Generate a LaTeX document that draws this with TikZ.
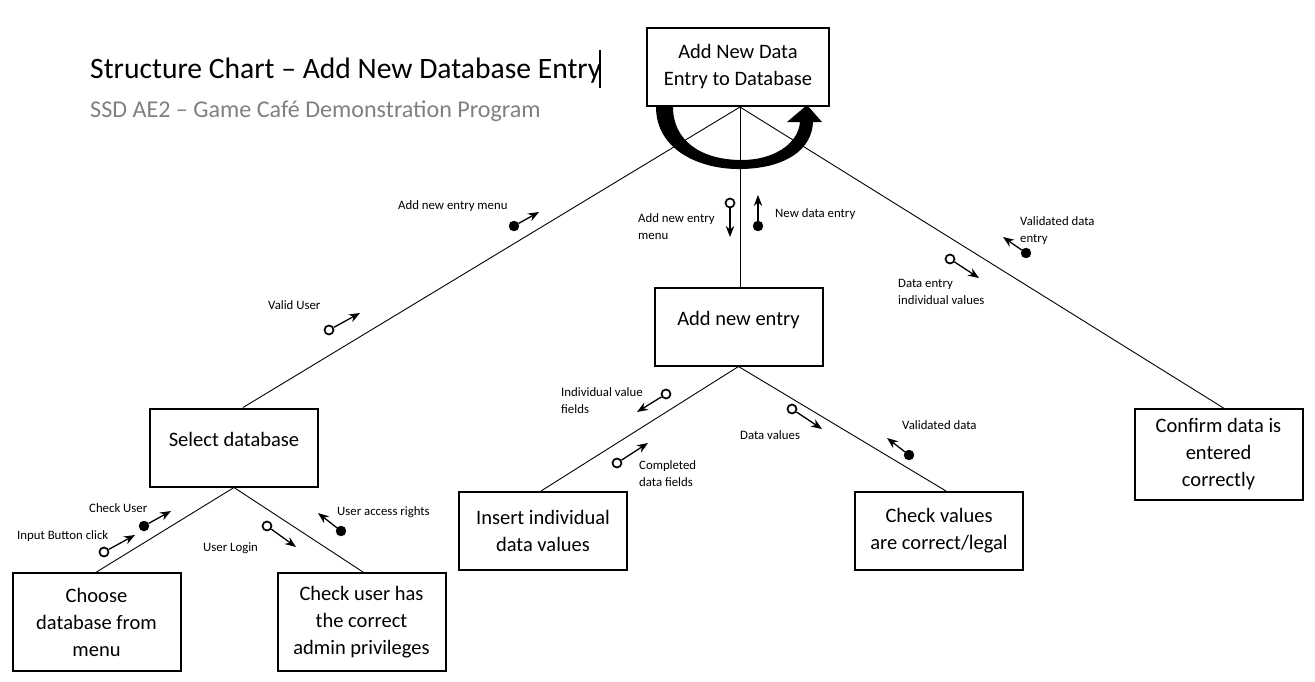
\documentclass[tikz,border=0pt]{standalone}
\usepackage{fontspec}
\setmainfont{Carlito}
\usepackage{xcolor}
\usetikzlibrary{arrows.meta}
\definecolor{SubtitleGrey}{HTML}{808080}

\tikzset{
  module/.style={draw, line width=2pt, align=center, inner sep=0pt,
    minimum width=168pt, minimum height=78pt,
    font=\fontsize{20.5}{27}\selectfont},
  onemodule/.style={module, text height=14pt, text depth=17pt},
  link/.style={line width=0.9pt},
  flag/.style={font=\fontsize{12.8}{17}\selectfont, align=left,
    anchor=west, inner sep=0pt},
  datacpl/.style={circle, draw, line width=1.7pt, fill=white,
    inner sep=0pt, minimum size=9pt},
  ctrlcpl/.style={circle, draw, fill=black, inner sep=0pt, minimum size=10pt},
  cplarrow/.style={line width=1.3pt, -{Stealth[length=11pt,width=8.5pt]}}
}

\begin{document}
\begin{tikzpicture}[x=1pt,y=-1pt]
   \useasboundingbox (0,0) rectangle (1315,681);

   % heading
   \node[anchor=base west, inner sep=0pt, font=\fontsize{29.6}{34}\selectfont] (title) at (90,78)
      {Structure Chart -- Add New Database Entry};
   \draw[line width=1.2pt] (600,50) -- (600,88);
   \node[anchor=base west, inner sep=0pt, text=SubtitleGrey, font=\fontsize{24.1}{28}\selectfont] (subtitle) at (90,117)
      {SSD AE2 -- Game Café Demonstration Program};

   % modules
   \node[module, minimum width=182pt] (main) at (738,67) {Add New Data\\Entry to Database};
   \node[onemodule] (addent) at (738.5,326.5) {Add new entry};
   \node[onemodule] (seldb) at (234,447.5) {Select database};
   \node[module, minimum height=98pt] (choose) at (96.5,622) {Choose\\database from\\menu};
   \node[module, minimum height=98pt] (chkuser) at (361.5,622) {Check user has\\the correct\\admin privileges};
   \node[module] (insert) at (543,531) {Insert individual\\data values};
   \node[module] (chkval) at (939,531) {Check values\\are correct/legal};
   \node[module, minimum height=91pt] (confirm) at (1218.5,454.5) {Confirm data is\\entered\\correctly};

   % iteration
   \fill (656,107) .. controls (656,150) and (700,170) .. (742,169)
      .. controls (785,168) and (812,150) .. (813,122) -- (822,122) -- (807,105)
      -- (787,122) -- (800,122) .. controls (798,145) and (772,160) .. (742,160)
      .. controls (700,160) and (673,140) .. (673,107) -- cycle;

   % calls
   \draw[link] ([xshift=2pt]main.south) -- ([xshift=9pt]seldb.north);
   \draw[link] ([xshift=2pt]main.south) -- ([xshift=1.5pt]addent.north);
   \draw[link] ([xshift=2pt]main.south) -- ([xshift=5pt]confirm.north);
   \draw[link] (seldb.south) -- (choose.north);
   \draw[link] (seldb.south) -- ([xshift=1.5pt]chkuser.north);
   \draw[link] (addent.south) -- ([xshift=-2pt]insert.north);
   \draw[link] (addent.south) -- ([xshift=7pt]chkval.north);

   % couples
   \foreach \n/\s/\a/\b/\c/\d in {cpA/ctrlcpl/514/226/539/212, cpB/datacpl/329/330/360/313,
      cpC/datacpl/730/203/730/237, cpD/ctrlcpl/758/226/758/195,
      cpE/ctrlcpl/1026/253/1003/237, cpF/datacpl/950/259/979/278,
      cpG/datacpl/666/394/637/412, cpH/datacpl/617/463/648/443,
      cpI/datacpl/792/409/822/429, cpJ/ctrlcpl/909/455/887/438,
      cpK/ctrlcpl/144/526/171/511, cpL/datacpl/104/552/135/535,
      cpM/datacpl/267/526/296/547, cpN/ctrlcpl/341/531/318/513}
   {
      \coordinate (\n-tip) at (\c,\d);
      \node[\s] (\n) at (\a,\b) {};
      \draw[cplarrow] (\n) -- (\n-tip);
   }

   % couple labels
   \foreach \n/\a/\b/\t in {lbA/398/206/{Add new entry menu}, lbB/268/305/{Valid User},
      lbC/638/227/{Add new entry\\menu}, lbD/775/214/{New data entry},
      lbE/1020/231/{Validated data\\entry}, lbF/898/292/{Data entry\\individual values},
      lbG/561/401/{Individual value\\fields}, lbH/639/474/{Completed\\data fields},
      lbI/740/435/{Data values}, lbJ/902/425/{Validated data},
      lbK/89/508/{Check User}, lbL/17/536/{Input Button click},
      lbM/203/548/{User Login}, lbN/337/512/{User access rights}}
   {
      \node[flag] (\n) at (\a,\b) {\t};
   }
\end{tikzpicture}
\end{document}
